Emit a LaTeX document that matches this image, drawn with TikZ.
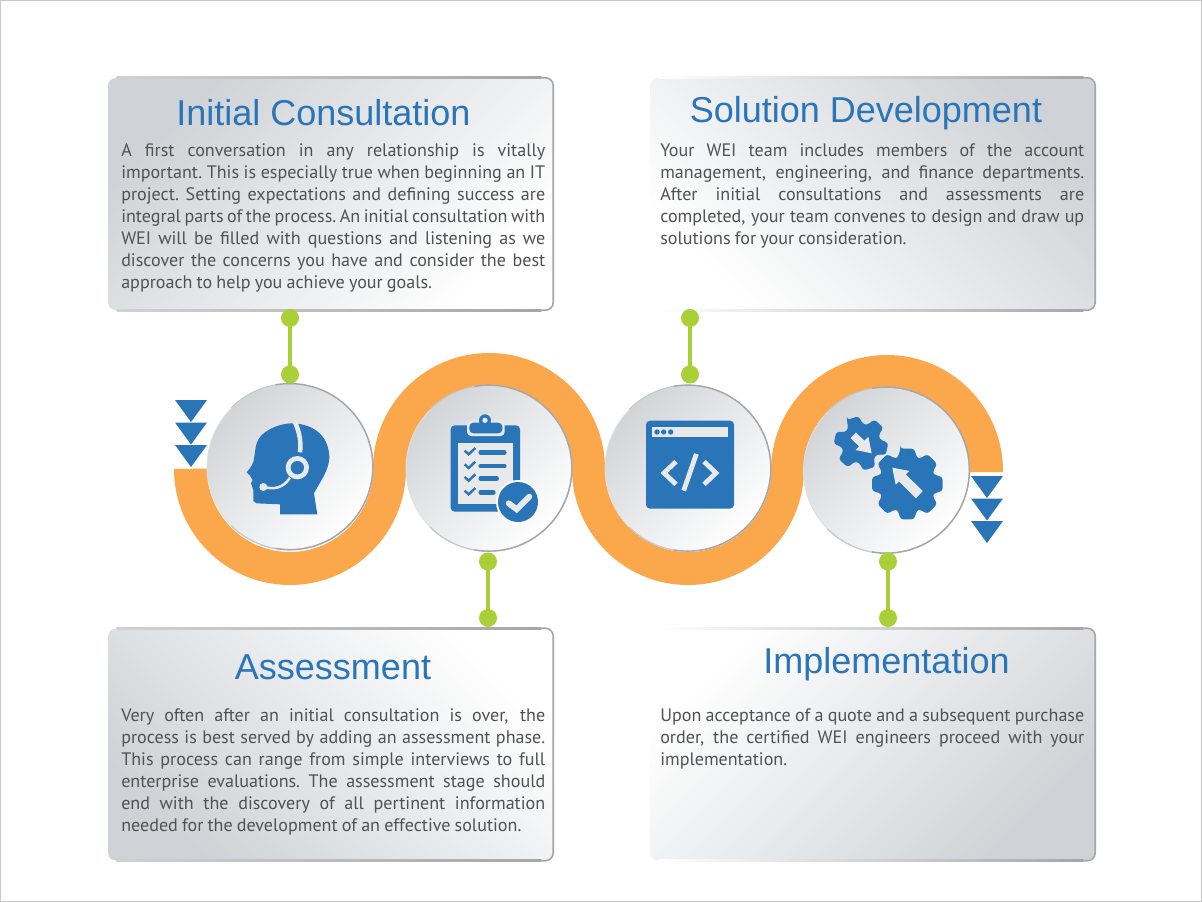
\documentclass[tikz,border=0pt]{standalone}
\usepackage{fontspec}
\setmainfont{PT Sans}
\newfontfamily\titlefont{Liberation Sans}
\usetikzlibrary{calc}
\definecolor{bandorange}{HTML}{FBA74C}
\definecolor{iconblue}{HTML}{2A75B8}
\definecolor{stemgreen}{HTML}{A9D036}
\definecolor{bodygrey}{HTML}{505153}
\definecolor{edgegrey}{HTML}{A6A6A6}
\definecolor{panelgrey}{HTML}{CFD2D6}
\definecolor{discgrey}{HTML}{D2D5D8}
\definecolor{iconpale}{HTML}{E8E9EB}
\newcommand{\jl}[1]{\leavevmode\hbox to 318pt{\spaceskip=.2em plus 1fil minus .06em\xspaceskip=\spaceskip\strut #1}\\}
\newcommand{\lastl}[1]{{\spaceskip=.23em\xspaceskip=.23em\strut #1}}
\tikzset{
  paneltitle/.style={font=\titlefont\fontsize{27}{30}\selectfont,text=iconblue,inner sep=0pt,anchor=base},
  panelbody/.style={font=\fontsize{13.55}{16.5}\selectfont,text=bodygrey,inner sep=0pt,text width=318pt,align=left,anchor=north west},
  panelbox/.style={rounded corners=6pt,minimum width=333.75pt,minimum height=174pt,inner sep=0pt,shade,top color=panelgrey,bottom color=white,shading angle=#1},
  disc/.style={circle,minimum size=124.5pt,inner sep=0pt,shade,top color=discgrey,bottom color=white,shading angle=45,draw=black!12,line width=.6pt},
  stemdot/.style={circle,fill=stemgreen,minimum size=13.5pt,inner sep=0pt,outer sep=0pt},
  stem/.style={draw=stemgreen,line width=3pt,shorten <=-1pt,shorten >=-1pt},
  band/.style={draw=bandorange,line width=24.75pt},
  pointer/.style={fill=iconblue},
  iconline/.style={draw=iconpale,line cap=butt,line join=miter},
}
% panel edge: fading top and bottom strips, solid right side
\newcommand{\paneledge}[2]{
  \shade[left color=#2,right color=edgegrey] ($(#1.north west)+(9,-.8)$) rectangle ($(#1.north east)+(-12,.8)$);
  \shade[left color=#2,right color=edgegrey] ($(#1.south west)+(9,-.8)$) rectangle ($(#1.south east)+(-12,.8)$);
  \draw[edgegrey,line width=1.2pt,rounded corners=6pt] ($(#1.north east)+(-12,0)$) -- (#1.north east) -- (#1.south east) -- ($(#1.south east)+(-12,0)$);
}
\newcommand{\discedge}[1]{
  \draw[black!22,line width=.9pt] (#1.135) arc[start angle=-135,end angle=135,radius=83];
  \draw[edgegrey,line width=1pt] (#1.100) arc[start angle=-100,end angle=100,radius=83];
}
\newcommand{\gearshape}[7]{% cx cy n rot router rinner halfwidth
  \fill[pointer,rounded corners=2.2pt] ($(#1,#2)+(#4-#7:#5)$)
    \foreach \gi in {1,...,#3}{
      -- ($(#1,#2)+(#4+\gi*360/#3-360/#3+#7:#5)$)
      -- ($(#1,#2)+(#4+\gi*360/#3-360/#3+#7*1.8:#6)$)
      -- ($(#1,#2)+(#4+\gi*360/#3-#7*1.8:#6)$)
      -- ($(#1,#2)+(#4+\gi*360/#3-#7:#5)$)
    } -- cycle;
}
\begin{document}
\begin{tikzpicture}[x=0.75pt,y=-0.75pt]
\useasboundingbox (0,0) rectangle (1202,902);
\fill[white] (0,0) rectangle (1202,902);
\draw[black!22,line width=.9pt] (.6,.6) rectangle (1201.4,901.4);

% panels
\node[panelbox=45] (p1) at (330.5,194) {};
\node[panelbox=-45] (p2) at (872.5,194) {};
\node[panelbox=135] (p3) at (330.5,744.5) {};
\node[panelbox=-135] (p4) at (872.5,744.5) {};
\paneledge{p1}{black!18}\paneledge{p2}{white}\paneledge{p3}{black!18}\paneledge{p4}{white}

% titles
\node[paneltitle] (t1) at (323.5,125.3) {Initial Consultation};
\node[paneltitle] (t2) at (866,122.7) {Solution Development};
\node[paneltitle] (t3) at (333,679.3) {Assessment};
\node[paneltitle] (t4) at (886.5,673.3) {Implementation};

% body texts
\node[panelbody] (b1) at (121,140.6) {%
\jl{A first conversation in any relationship is vitally}
\jl{important. This is especially true when beginning an IT}
\jl{project. Setting expectations and defining success are}
\jl{integral parts of the process. An initial consultation with}
\jl{WEI will be filled with questions and listening as we}
\jl{discover the concerns you have and consider the best}
\lastl{approach to help you achieve your goals.}};
\node[panelbody] (b2) at (660,140.6) {%
\jl{Your WEI team includes members of the account}
\jl{management, engineering, and finance departments.}
\jl{After initial consultations and assessments are}
\jl{completed, your team convenes to design and draw up}
\lastl{solutions for your consideration.}};
\node[panelbody] (b3) at (121,705.6) {%
\jl{Very often after an initial consultation is over, the}
\jl{process is best served by adding an assessment phase.}
\jl{This process can range from simple interviews to full}
\jl{enterprise evaluations. The assessment stage should}
\jl{end with the discovery of all pertinent information}
\lastl{needed for the development of an effective solution.}};
\node[panelbody] (b4) at (660,705.6) {%
\jl{Upon acceptance of a quote and a subsequent purchase}
\jl{order, the certified WEI engineers proceed with your}
\lastl{implementation.}};

% serpentine band
\draw[band] (190.5,470) -- (190.5,469) arc[start angle=180,end angle=0,radius=99.5]
  arc[start angle=180,end angle=360,radius=99.5]
  arc[start angle=180,end angle=0,radius=99.5]
  -- ++(0,2) arc[start angle=180,end angle=360,radius=99.5] -- ++(0,1);

% discs
\node[disc] (c1) at (290,467) {};
\node[disc] (c2) at (489,468.5) {};
\node[disc] (c3) at (688,468.5) {};
\node[disc] (c4) at (886.5,470.5) {};
\discedge{c1}\discedge{c2}\discedge{c3}\discedge{c4}

% triangles
\foreach \ty in {400,422.5,445}{\fill[pointer] (175,\ty) -- (207,\ty) -- (191,\ty+22) -- cycle;}
\foreach \ty in {476,498.5,521}{\fill[pointer] (971,\ty) -- (1003,\ty) -- (987,\ty+22) -- cycle;}

% stems
\node[stemdot] (d1a) at (290,318) {};
\node[stemdot] (d1b) at (290,374.5) {};
\node[stemdot] (d2a) at (488,561.5) {};
\node[stemdot] (d2b) at (488,618) {};
\node[stemdot] (d3a) at (690,318) {};
\node[stemdot] (d3b) at (690,374.5) {};
\node[stemdot] (d4a) at (888,561.5) {};
\node[stemdot] (d4b) at (888,618) {};
\draw[stem] (d1a) -- (d1b);
\draw[stem] (d2a) -- (d2b);
\draw[stem] (d3a) -- (d3b);
\draw[stem] (d4a) -- (d4b);

% head icon
\begin{scope}[shift={(240,415)},x=0.25pt,y=-0.25pt]
\fill[pointer] (232,298) -- (120,298) -- (120,268) -- (50,265) -- (40,258) -- (40,225) -- (33,205) -- (38,195) -- (30,182) -- (20,172)
  .. controls (30,160) and (42,145) .. (42,130) .. controls (46,110) and (46,95) .. (50,85)
  .. controls (60,50) and (110,28) .. (150,25) .. controls (230,25) and (268,70) .. (268,130)
  .. controls (265,170) and (240,200) .. (222,235) -- cycle;
\draw[iconline,line width=3.4pt] (165,22) .. controls (178,50) and (184,80) .. (180,112);
\draw[iconpale,line width=1.9pt] (150,188) .. controls (130,220) and (100,224) .. (72,216);
\fill[iconpale] (70,216) circle[radius=12];
\fill[iconpale] (172,158) circle[radius=35];
\fill[pointer] (172,158) circle[radius=20];
\end{scope}

% clipboard icon
\begin{scope}[shift={(170,350)},x=0.25pt,y=-0.25pt]
\fill[pointer,rounded corners=3pt] (842,226) rectangle (1050,485);
\fill[iconpale] (864,278) rectangle (1028,462);
\fill[iconpale,rounded corners=3pt] (891,212) rectangle (1004,258);
\fill[pointer,rounded corners=3pt] (898,218) rectangle (997,250);
\fill[pointer] (945,211) circle[radius=18];
\fill[iconpale] (945,211) circle[radius=8];
\foreach \ly/\lx in {307/1003,348/1003,386/980,427/970}{
  \draw[iconblue,line width=3.4pt,line cap=round] (932,\ly) -- (\lx,\ly);
  \draw[iconblue,line width=1.8pt] (884,\ly-5) -- (896,\ly+6) -- (916,\ly-13);
}
\fill[white!94!discgrey] (1044,456) circle[radius=66];
\fill[pointer] (1044,456) circle[radius=60];
\draw[iconpale,line width=4.4pt,line cap=round] (1016,460) -- (1040,478) -- (1078,440);
\end{scope}

% code window icon
\begin{scope}[shift={(570,350)},x=0.25pt,y=-0.25pt]
\fill[pointer,rounded corners=3pt] (228,212) rectangle (492,476);
\fill[iconpale] (246,231) rectangle (474,261);
\foreach \dx in {261,281,302}{\fill[pointer] (\dx,246) circle[radius=8];}
\draw[iconpale,line width=3.6pt] (318,335) -- (282,369) -- (318,403);
\draw[iconpale,line width=3.6pt] (402,335) -- (438,369) -- (402,403);
\draw[iconpale,line width=3.6pt] (379,312) -- (341,422);
\end{scope}

% gears icon
\begin{scope}[shift={(825,410)},x=0.25pt,y=-0.25pt]
\gearshape{108}{100}{6}{-108}{82}{58}{13}
\gearshape{247}{222}{8}{-90}{108}{84}{11}
\fill[iconpale] (293,243) -- (273,265) -- (222,214) -- (212,224) -- (202,173) -- (253,183) -- (242,193) -- cycle;
\fill[iconpale] (93,68) -- (77,84) -- (102,109) -- (92,120) -- (140,130) -- (130,80) -- (118,92) -- cycle;
\end{scope}
\end{tikzpicture}
\end{document}
